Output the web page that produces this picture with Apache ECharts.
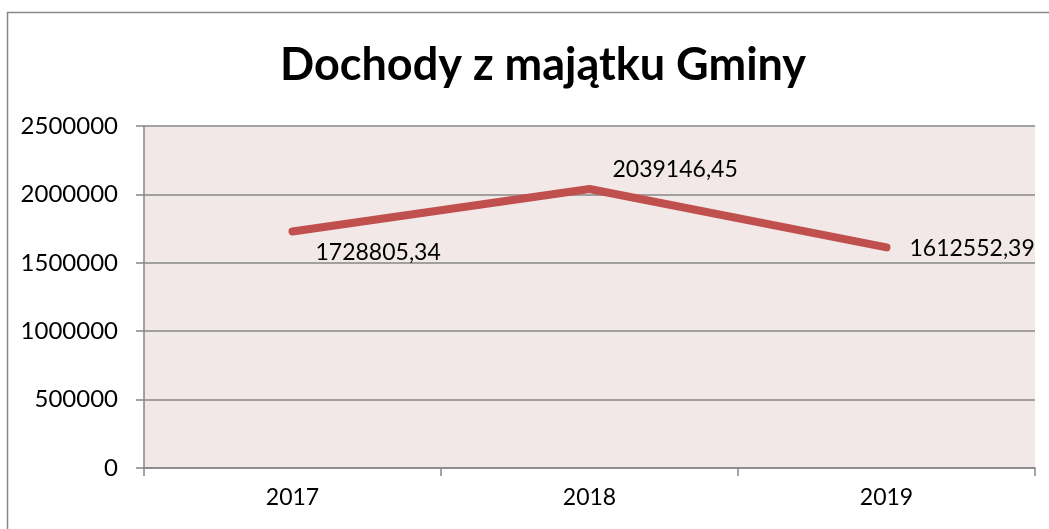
<!DOCTYPE html>
<html>
<head>
<meta charset="utf-8">
<script src="https://cdn.jsdelivr.net/npm/echarts@6/dist/echarts.min.js"></script>
<style>
  html, body { margin: 0; padding: 0; background: #fff; }
  #chart { width: 1049px; height: 529px; }
</style>
</head>
<body>
<div id="chart"></div>
<script>
const years = ['2017', '2018', '2019'];
const values = [1728805.34, 2039146.45, 1612552.39];
const labelTexts = ['1728805,34', '2039146,45', '1612552,39'];
const labelOffsets = [[0, 21], [0, -19], [0, 1]];

const font = 'Lato, "Open Sans", sans-serif';
const chart = echarts.init(document.getElementById('chart'));

chart.setOption({
  animation: false,
  title: {
    text: 'Dochody z majątku Gminy',
    left: 275,
    top: 38,
    textStyle: { fontFamily: font, fontSize: 45, fontWeight: 'bold', color: '#000' }
  },
  graphic: [{
    type: 'rect',
    shape: { x: 7.5, y: 12.5, width: 1100, height: 600 },
    style: { fill: 'none', stroke: '#878787', lineWidth: 1.5 },
    silent: true
  }],
  grid: {
    left: 144, right: 14, top: 126, bottom: 61,
    show: true, backgroundColor: '#f2e8e8', borderWidth: 0
  },
  xAxis: {
    type: 'category',
    data: years,
    boundaryGap: true,
    axisLine: { lineStyle: { color: '#878787', width: 1.5 } },
    axisTick: { show: true, length: 8, lineStyle: { color: '#878787', width: 1.5 } },
    axisLabel: { fontFamily: font, fontSize: 23, color: '#000', margin: 18 }
  },
  yAxis: {
    type: 'value',
    min: 0, max: 2500000, interval: 500000,
    axisLine: { show: true, lineStyle: { color: '#878787', width: 1.5 } },
    axisTick: { show: true, length: 8, lineStyle: { color: '#878787', width: 1.5 } },
    splitLine: { lineStyle: { color: '#878787', width: 1.5 } },
    axisLabel: { fontFamily: font, fontSize: 24, color: '#000', margin: 26, formatter: v => String(v) }
  },
  series: [{
    type: 'line',
    data: values.map((v, i) => ({
      value: v,
      label: { offset: labelOffsets[i] }
    })),
    showSymbol: true,
    symbol: 'circle',
    symbolSize: 2,
    itemStyle: { color: '#c0504d' },
    lineStyle: { color: '#c0504d', width: 8, cap: 'round', join: 'round' },
    label: {
      show: true,
      position: 'right',
      distance: 22,
      fontFamily: font,
      fontSize: 23,
      color: '#000',
      formatter: p => labelTexts[p.dataIndex]
    }
  }]
});
</script>
</body>
</html>
